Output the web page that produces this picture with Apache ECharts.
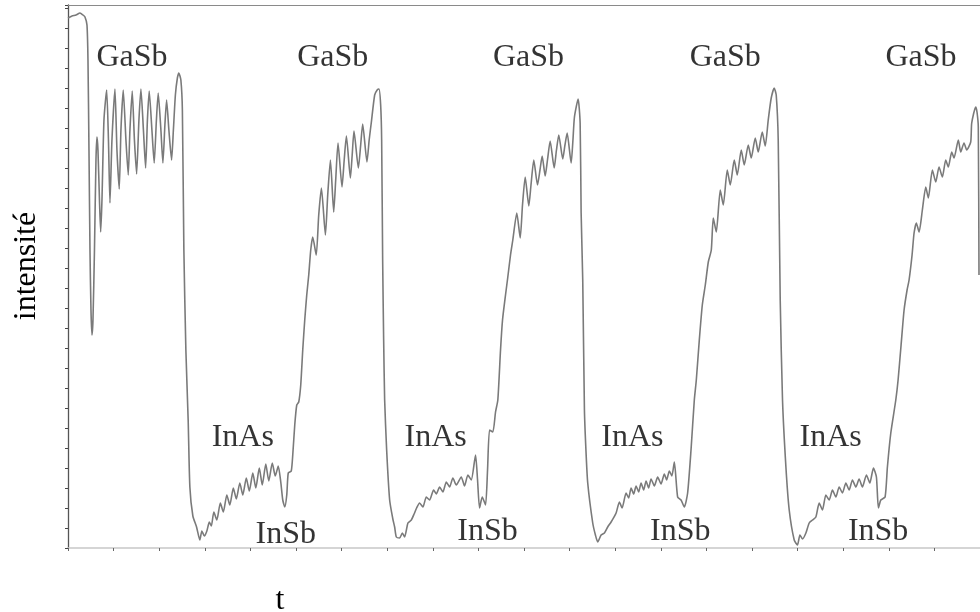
<!DOCTYPE html>
<html>
<head>
<meta charset="utf-8">
<script src="https://cdn.jsdelivr.net/npm/echarts@6/dist/echarts.min.js"></script>
<style>
  html, body { margin: 0; padding: 0; background: #fff; }
  #chart { width: 980px; height: 612px; }
</style>
</head>
<body>
<div id="chart"></div>
<script>
// ---- data (t, intensity), by segment ----
const segGaSb1 = [
  [0,530],[4,532],[8,533],[12,535],[15,533],[17,531],[19,523],[20,488],[21,398],[22,298],[23,238],[24,213],
  [25,228],[26.5,298],[28,388],[29,411],[30,398],[31.5,348],[32.7,316],[34,348],[36,428],[38.7,458],
  [40.5,408],[42,345],[44,408],[47,459],[49,398],[51.3,359],[53,418],[55.3,458],[58,408],[60.3,373],
  [62,418],[64.3,457],[66.5,408],[68.7,374],[71,428],[73,459],[75.5,418],[77.7,380],[79.5,428],[81.3,457],
  [84,418],[86.3,385],[88.5,428],[90.3,455],[93,418],[95,385],[97,423],[98.7,448],[101,418],[103.7,388],
  [105.5,418],[107.5,453],[109.5,470],[111,475],[113,468],[114.5,438],[116,298],[118,198],[120.3,128]
];
const segValley1 = [
  [122,61],[125,32],[128.7,21],[132,8],[134,17],[136.5,12],[139,17],[141.5,26],[143.5,22],[146,36],[149,28],
  [152.5,45],[155.5,36],[159,53],[162,43],[165.5,60],[168.5,49],[172,65],[175,53],[178.5,70],[181.5,57],
  [185,75],[188,60],[191.5,80],[194.5,63],[198,84],[201,67],[204.5,85],[207.5,72],[210.5,82],[213,66],
  [215,48],[217,41],[219,53],[220.5,75],[223.5,77],[225,93],[227,123],[229,143],[231,146],[233,163],
  [235,198],[237,228],[239,253],[241,273],[243,298],[245,311],[248.5,293]
];
const segGaSb2 = [
  [251,333],[253.7,360],[257.7,313],[260,353],[262.7,388],[266,336],[268,368],[270.3,405],[274.3,361],
  [276.5,388],[278.7,412],[282.7,370],[284.5,393],[286.3,417],[290.7,380],[293,403],[295,424],[299.3,386],
  [301.5,408],[303.7,426],[307,453],[309.5,458],[311.3,459],[313,443],[314,408],[315,288],[316,208],[317,148]
];
const segValley2 = [
  [319,98],[322,48],[325,30],[327,21],[328.7,11],[332,10],[334.7,15],[337,11],[340.3,25],[343.7,28],
  [346.5,34],[349,40],[352,45],[355.3,41],[358.7,51],[362,48],[366,58],[368.7,54],[372,61],[375.3,56],
  [378.7,66],[382,61],[385.3,70],[388.7,63],[393.7,71],[397,62],[400.3,73],[403.7,68],[408,93],[410,68],
  [412,40],[414.7,51],[418,43],[420,78],[422,118],[425.3,116],[428,136],[430.3,148]
];
const segGaSb3 = [
  [433,198],[435,228],[438,253],[440.3,271],[443,293],[445.3,308],[449.3,335],[452.7,310],[455,343],
  [457.7,371],[461.3,342],[463.5,363],[466.3,388],[470,363],[472.5,378],[474.7,392],[477.7,372],[480,388],
  [482.7,407],[486.7,380],[489,398],[491.3,413],[495.3,389],[497.5,403],[499.7,415],[503.7,385],[505.5,408],
  [507,431],[510.7,449],[512.7,425],[513.7,335],[515.3,268],[517,138]
];
const segValley3 = [
  [518.5,98],[520.3,65],[525.3,25],[528,13],[530.3,6],[533.7,13],[537,15],[540.3,21],[543.7,26],[548.7,35],
  [552,46],[554.7,40],[558.7,55],[561.3,50],[563.7,60],[566.3,54],[568.7,62],[571.3,56],[573.7,65],[576.3,58],
  [578.7,67],[581.3,60],[583.7,69],[587,62],[590.3,71],[593.7,64],[597,74],[599.3,68],[602,77],[604.5,72],
  [607,86],[610.3,51],[613.7,48],[617,41],[620.3,55],[623.7,98],[627,148]
];
const segGaSb4 = [
  [629,168],[632,208],[635,243],[638,263],[641,286],[644,298],[646,330],[649,316],[653,358],[656,343],
  [660,378],[663,363],[667,388],[670,373],[674,398],[677,383],[681,403],[684,390],[688,410],[691,396],
  [695,416],[698,402],[701,428],[704,450],[707,460],[709,453],[711,408],[713,248],[715.3,148]
];
const segValley4 = [
  [718.7,81],[722,38],[727,8],[730.3,3],[732.7,13],[735.3,9],[738.7,15],[742,25],[745.3,28],[748.7,31],
  [752,45],[755.3,38],[758.7,53],[762,48],[765.3,58],[768.7,51],[772,61],[775.3,55],[778.7,65],[782,58],
  [785.3,68],[788.7,61],[792,69],[795.3,61],[799.3,73],[802.7,65],[806.3,80],[809.3,71],[811.3,40],
  [813.7,48],[818,51],[820.3,81],[823.7,115],[828.7,148]
];
const segGaSb5 = [
  [831,168],[834,203],[837,238],[840,258],[842,268],[845,293],[847,315],[849.3,325],[852,316],[855.3,338],
  [858.7,361],[861.3,350],[865.3,378],[868.7,366],[872,381],[875.3,371],[878.7,388],[881.3,381],[884.7,396],
  [887,390],[891.3,408],[893.7,396],[897,405],[899.7,398],[903.7,406],[904.7,425],[908.7,441],[910,436],
  [911.3,421],[912,273]
];

// layer labels (name, t, intensity)
const labelNames = ['GaSb','GaSb','GaSb','GaSb','GaSb','InAs','InAs','InAs','InAs','InSb','InSb','InSb','InSb'];
const labelT     = [64, 265, 461, 658, 854, 175, 368, 565, 763.5, 218, 420, 613, 811];
const labelI     = [490, 490, 490, 490, 490, 110, 110, 110, 110, 13, 16, 16, 16];

// axes
const tMax = 913, tTick = 45.65;
const iMax = 543, iTick = 20;

const curve = [].concat(segGaSb1, segValley1, segGaSb2, segValley2, segGaSb3,
                        segValley3, segGaSb4, segValley4, segGaSb5);
const labelData = labelNames.map((n, k) => ({ name: n, value: [labelT[k], labelI[k]] }));

const serif = "'Liberation Serif', 'Times New Roman', serif";
const chart = echarts.init(document.getElementById('chart'), null, { renderer: 'canvas' });
chart.setOption({
  animation: false,
  backgroundColor: '#fff',
  grid: { left: 68, top: 5, width: 913, height: 543, containLabel: false },
  xAxis: [
    {
      type: 'value', min: 0, max: tMax, interval: tTick,
      axisLine: { show: true, lineStyle: { color: '#c8c8c8', width: 1.5 } },
      axisTick: { show: true, inside: false, length: 3, lineStyle: { color: '#666', width: 1 } },
      axisLabel: { show: false }, splitLine: { show: false }
    },
    {
      type: 'value', position: 'top', min: 0, max: tMax,
      axisLine: { show: true, onZero: false, lineStyle: { color: '#8a8a8a', width: 1.2 } },
      axisTick: { show: false }, axisLabel: { show: false }, splitLine: { show: false }
    }
  ],
  yAxis: {
    type: 'value', min: 0, max: iMax, interval: iTick,
    axisLine: { show: true, lineStyle: { color: '#555', width: 1.3 } },
    axisTick: { show: true, inside: false, length: 3, lineStyle: { color: '#444', width: 1 } },
    axisLabel: { show: false }, splitLine: { show: false }
  },
  graphic: [
    { type: 'text', x: 27, y: 266, rotation: Math.PI / 2,
      style: { text: 'intensité', font: '32px ' + serif, fill: '#000', align: 'center', verticalAlign: 'middle' } },
    { type: 'text', x: 280, y: 601,
      style: { text: 't', font: '32px ' + serif, fill: '#000', align: 'center', verticalAlign: 'middle' } }
  ],
  series: [
    {
      type: 'line', xAxisIndex: 0, data: curve, showSymbol: false, symbol: 'none',
      smooth: 0.2, lineStyle: { color: '#7a7a7a', width: 1.6 }, clip: true
    },
    {
      type: 'scatter', xAxisIndex: 0, data: labelData, symbolSize: 1,
      itemStyle: { color: 'rgba(0,0,0,0)' },
      label: { show: true, position: 'inside', formatter: p => p.name,
               fontFamily: serif, fontSize: 32, color: '#000', textBorderWidth: 0 },
      silent: true, z: 5
    }
  ]
});
</script>
</body>
</html>
